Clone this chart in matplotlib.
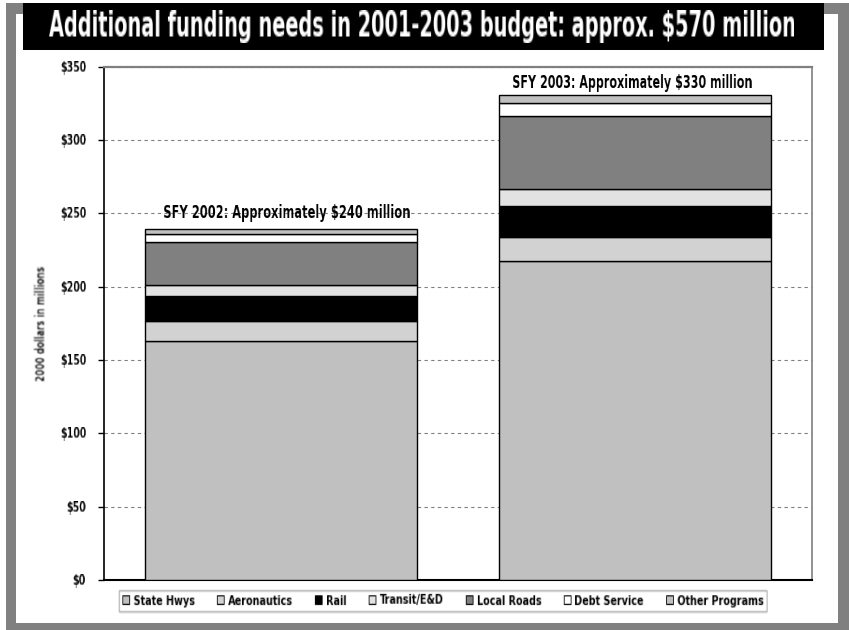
import matplotlib
matplotlib.use("Agg")
import matplotlib.pyplot as plt
from matplotlib.patches import Rectangle, Patch
from matplotlib.transforms import offset_copy
import numpy as np

plt.rcParams['font.family'] = ['Liberation Sans Narrow', 'DejaVu Sans']

years = ["SFY 2002", "SFY 2003"]
programs = ["State Hwys", "Aeronautics", "Rail", "Transit/E&D",
            "Local Roads", "Debt Service", "Other Programs"]
# $ millions, stacked bottom to top
state_hwys = [163.1, 217.6]
aeronautics = [13.5, 16.0]
rail = [17.0, 21.7]
transit = [7.7, 11.4]
local_roads = [29.3, 49.6]
debt_service = [5.1, 9.1]
other_programs = [3.4, 5.2]
bar_labels = ["SFY 2002: Approximately $240 million",
              "SFY 2003: Approximately $330 million"]
yticks = [0, 50, 100, 150, 200, 250, 300, 350]

colors = ["#c0c0c0", "#d2d2d2", "#000000", "#e2e2e2",
          "#808080", "#ffffff", "#c0c0c0"]


def _resample(n, s):
    m = max(1, int(round(n * s)))
    j = np.arange(m)[:, None]
    i = np.arange(n)[None, :]
    if s <= 1:
        a, b = j / s, (j + 1) / s
        w = np.clip(np.minimum(i + 1, b) - np.maximum(i, a), 0, None)
    else:
        src = (j + 0.5) / s - 0.5
        w = np.clip(1 - np.abs(i - src), 0, None)
    return w / w.sum(axis=1, keepdims=True)


def reshape(sx, sy=1.0, anchor="center", dx=0, blur=False):
    """agg filter: rescale the rendered artist (narrow type face look)."""
    def f(img, dpi):
        h, w, _ = img.shape
        out = np.einsum("hwc,nw->hnc", img, _resample(w, sx))
        out = np.einsum("hwc,nh->nwc", out, _resample(h, sy))
        nh, nw = out.shape[:2]
        if anchor == "center":
            ox = (w - nw) // 2
        elif anchor == "right":
            ox = w - nw
        else:
            ox = 0
        oy = (h - nh) // 2
        if blur:
            k = np.array([1, 2, 1], float)
            k /= k.sum()
            out = np.pad(out, ((2, 2), (2, 2), (0, 0)))
            for axis in (0, 1):
                out = sum(np.roll(out, s, axis=axis) * wt for s, wt in zip(range(-1, 2), k))
            ox, oy = ox - 2, oy - 2
        return np.clip(out, 0, 1), ox + int(round(dx)), oy
    return f


W, H = 849, 630
fig = plt.figure(figsize=(W / 100, H / 100), dpi=100)

# frame and title bar
fig.patches.append(Rectangle((6 / W, 0), 843 / W, 627 / H, transform=fig.transFigure,
                             facecolor="#808080", edgecolor="none", zorder=-3))
fig.patches.append(Rectangle((16 / W, 1 - 623 / H), 822 / W, 609 / H, transform=fig.transFigure,
                             facecolor="white", edgecolor="none", zorder=-2))
fig.patches.append(Rectangle((23 / W, 1 - 50 / H), 801 / W, 47 / H, transform=fig.transFigure,
                             facecolor="black", edgecolor="none", zorder=-1))

title = fig.text(422.5 / W, 1 - 26.5 / H,
                 "Additional funding needs in 2001-2003 budget: approx. $570 million",
                 color="white", fontsize=24, fontweight="bold", ha="center", va="center")

ax = fig.add_axes([104 / W, 1 - 580 / H, 708 / W, 513.4 / H])

series = [state_hwys, aeronautics, rail, transit, local_roads, debt_service, other_programs]
x = np.array([0.5, 1.5])
bottom = np.zeros(2)
for name, vals, c in zip(programs, series, colors):
    ax.bar(x, vals, width=0.77, bottom=bottom, color=c, edgecolor="black",
           linewidth=1.0, label=name, zorder=3)
    bottom += np.array(vals)

notes = []
for xi, tot, lab, dx, dy in zip(x, bottom, bar_labels, [4.5, -1.5], [8.4, 4.8]):
    tr = offset_copy(ax.transData, fig=fig, x=dx, y=dy, units="points")
    notes.append(ax.text(xi, tot, lab, transform=tr, ha="center", va="baseline",
                         fontsize=12, fontweight="bold", zorder=4))

tick_fs = 8
ax.set_xlim(0, 2)
ax.set_ylim(0, 350)
ax.set_xticks([])
ax.set_yticks(yticks)
ax.set_yticklabels(["$%d" % v for v in yticks])
ax.tick_params(axis="y", direction="out", length=4, width=1, labelsize=tick_fs, pad=9)
for t in ax.get_yticklabels():
    t.set_fontweight("bold")
ax.yaxis.grid(True, linestyle=(0, (3, 3)), color="#808080", linewidth=0.8)
ax.set_axisbelow(True)
ax.spines["top"].set_color("#808080")
ax.spines["top"].set_linewidth(1.6)
ax.spines["right"].set_color("#808080")
ax.spines["right"].set_linewidth(1.2)
ax.spines["left"].set_linewidth(1.2)
ax.spines["bottom"].set_linewidth(1.5)

ylab = ax.set_ylabel("2000 dollars in millions", fontsize=9, fontweight="bold")
ax.yaxis.set_label_coords((48 - 104) / 708, 0.5)

# legend laid out at the canvas centre, shifted into place by its filter
leg_fs = 8
handles = [Patch(facecolor=c, edgecolor="black", linewidth=0.7) for c in colors]
leg = fig.legend(handles, programs, loc="center", bbox_to_anchor=(0.5, 1 - 600.5 / H),
                 ncol=7, fontsize=leg_fs, frameon=True, fancybox=False,
                 handlelength=0.75, handleheight=0.6, handletextpad=0.4,
                 columnspacing=2.3, borderpad=0.35)
leg.get_frame().set_edgecolor("#a0a0a0")
leg.get_frame().set_linewidth(1.0)
for t in leg.get_texts():
    t.set_fontweight("bold")

fig.canvas.draw()
title.set_fontsize(24 * 800 / title.get_window_extent().width)
fig.canvas.draw()

cap = 0.729 * 100 / 72  # cap height per point, in pixels
title.set_agg_filter(reshape(747 / title.get_window_extent().width,
                             25 / (cap * title.get_fontsize())))
for n, w in zip(notes, [247, 240]):
    n.set_agg_filter(reshape(w / n.get_window_extent().width))
tick_s = 26 / ax.get_yticklabels()[-1].get_window_extent().width
for t in ax.get_yticklabels():
    t.set_agg_filter(reshape(tick_s, 11 / (cap * tick_fs), anchor="right"))
leg.set_agg_filter(reshape(648 / leg.get_window_extent().width, 10 / (cap * leg_fs),
                           dx=442 - W / 2))
ylab.set_agg_filter(reshape(1.0, 115 / ylab.get_window_extent().height, blur=True))

fig.savefig("out.png", dpi=100)
